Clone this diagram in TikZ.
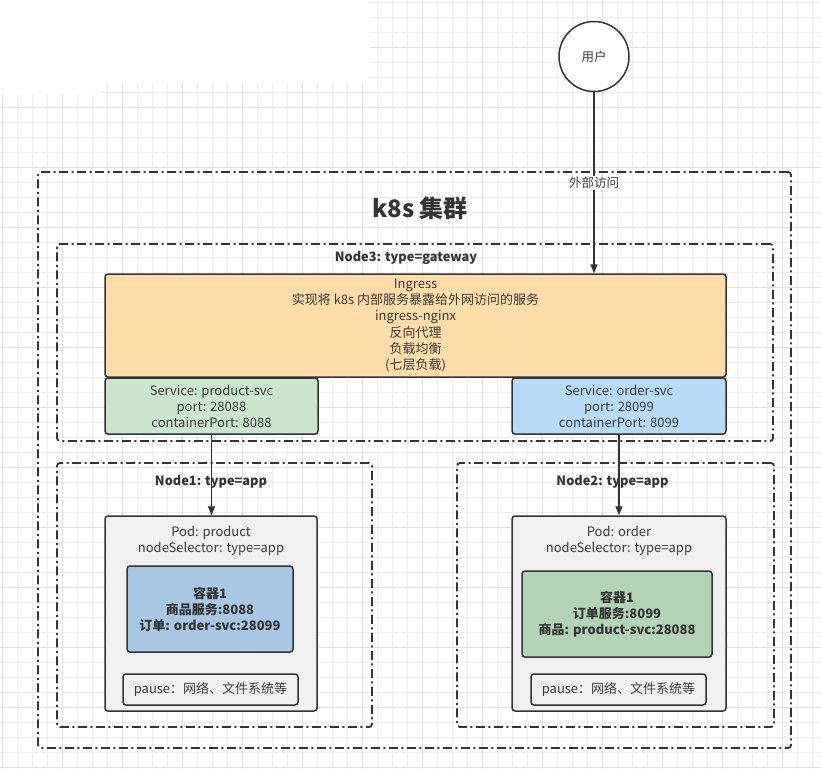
\documentclass[tikz,border=0pt]{standalone}
\usepackage{fontspec}
\setmainfont{Noto Sans CJK SC}
\usetikzlibrary{arrows.meta}
\definecolor{ink}{HTML}{333333}
\definecolor{txt}{HTML}{3A3A3A}
\definecolor{gridmin}{HTML}{EDEDED}
\definecolor{gridmaj}{HTML}{E0E0E0}
\definecolor{ingfill}{HTML}{FFDCA8}
\definecolor{gsvc}{HTML}{CBE5CE}
\definecolor{bsvc}{HTML}{B6DAF8}
\definecolor{podfill}{HTML}{F0F0F0}
\definecolor{cblue}{HTML}{A7C7E5}
\definecolor{cgreen}{HTML}{B3D3B6}
\tikzset{
  grp/.style={draw=ink, line width=1.8pt, dash pattern=on 9pt off 3.5pt on 2pt off 3.5pt, rounded corners=3pt, inner sep=0pt},
  box/.style={draw=ink, line width=1.5pt, rounded corners=3pt, align=center, text=txt, inner sep=0pt,
    font=\fontsize{13}{16}\selectfont},
  lbl/.style={text=txt, align=center, inner sep=1pt, font=\fontsize{13}{16}\selectfont},
  blbl/.style={text=ink, align=center, inner sep=0pt, font=\fontsize{12.8}{16}\selectfont\bfseries},
  arr/.style={draw=ink, line width=1.5pt, -{Triangle[length=9pt,width=7pt]}},
}
\begin{document}
\begin{tikzpicture}[x=1pt,y=-1pt]
\useasboundingbox (0,0) rectangle (821,769);
\fill[white] (0,0) rectangle (821,769);
% grid
\foreach \x in {2,17,...,821} \draw[gridmin, line width=0.7pt] (\x,0) -- (\x,769);
\foreach \y in {2,17,...,769} \draw[gridmin, line width=0.7pt] (0,\y) -- (821,\y);
\foreach \x in {2,62,...,821} \draw[gridmaj, line width=0.9pt] (\x,0) -- (\x,769);
\foreach \y in {47,107,...,769} \draw[gridmaj, line width=0.9pt] (0,\y) -- (821,\y);
% white patch at top left
\fill[white] (0,0) -- (370,0) -- (370,83) -- (100,83) -- (100,94) -- (0,94) -- cycle;

% groups
\node[grp, minimum width=753, minimum height=576] (cluster) at (414.5,460) {};
\node[grp, minimum width=716, minimum height=197] (node3) at (415,342.5) {};
\node[grp, minimum width=315, minimum height=264] (node1) at (214.5,595) {};
\node[grp, minimum width=317, minimum height=264] (node2) at (615.5,595) {};

\node[inner sep=0pt, text=ink, font=\fontsize{24}{28}\selectfont\bfseries] (title) at (420,208) {k8s 集群};
\node[blbl] (n3lbl) at (406,258) {Node3: type=gateway};
\node[blbl] (n1lbl) at (211,482) {Node1: type=app};
\node[blbl] (n2lbl) at (612.5,482) {Node2: type=app};

% user
\node[draw=ink, line width=1.5pt, fill=white, circle, minimum size=70, inner sep=0pt, text=txt,
  font=\fontsize{12.5}{16}\selectfont] (user) at (594,56.5) {用户};

% ingress
\node[box, fill=ingfill, minimum width=621, minimum height=103, font=\fontsize{13}{16.2}\selectfont] (ing) at (415.5,325.5)
  {Ingress\\实现将 k8s 内部服务暴露给外网访问的服务\\ingress-nginx\\反向代理\\负载均衡\\(七层负载)};

% services
\node[box, fill=gsvc, minimum width=213, minimum height=56] (psvc) at (211.5,406)
  {Service: product-svc\\port: 28088\\containerPort: 8088};
\node[box, fill=bsvc, minimum width=214, minimum height=56] (osvc) at (619,406)
  {Service: order-svc\\port: 28099\\containerPort: 8099};

% pods
\node[box, fill=podfill, minimum width=212, minimum height=195] (ppod) at (211,613.5) {};
\node[lbl, inner sep=0pt] (ppodlbl) at (211,540.5) {Pod: product\\nodeSelector: type=app};
\node[box, fill=cblue, minimum width=166, minimum height=86, font=\fontsize{13}{16}\selectfont\bfseries, text=ink] (pcon) at (210,609)
  {容器1\\商品服务:8088\\订单: order-svc:28099};
\node[box, fill=podfill, minimum width=175, minimum height=31] (ppause) at (210.5,689.5) {pause：网络、文件系统等};

\node[box, fill=podfill, minimum width=214, minimum height=195] (opod) at (619,613.5) {};
\node[lbl, inner sep=0pt] (opodlbl) at (619,540.5) {Pod: order\\nodeSelector: type=app};
\node[box, fill=cgreen, minimum width=190, minimum height=86, font=\fontsize{13}{16}\selectfont\bfseries, text=ink] (ocon) at (617,614)
  {容器1\\订单服务:8099\\商品: product-svc:28088};
\node[box, fill=podfill, minimum width=175, minimum height=31] (opause) at (618.5,689.5) {pause：网络、文件系统等};

% connectors
\draw[arr] (user.south) -- (user.south |- ing.north)
  node[lbl, fill=white, pos=0.5, font=\fontsize{12.5}{14}\selectfont] (ext) {外部访问};
\draw[arr] (psvc.south) -- (psvc.south |- ppod.north);
\draw[arr] (osvc.south) -- (osvc.south |- opod.north);
\end{tikzpicture}
\end{document}
